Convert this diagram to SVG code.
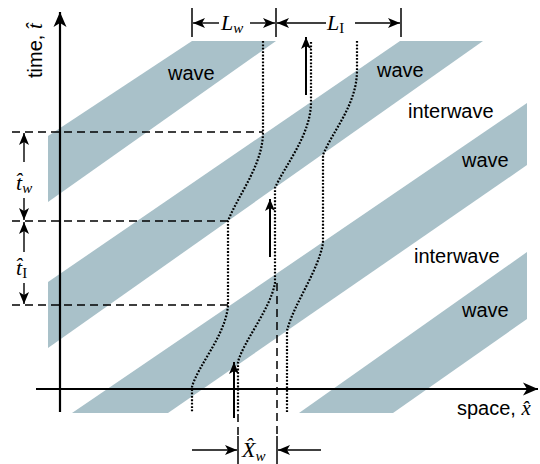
<svg xmlns="http://www.w3.org/2000/svg" width="540" height="464" viewBox="0 0 540 464">
<style>
.band{fill:#a9c1c9;stroke:none}
.ax{stroke:#000;stroke-width:2.2;fill:none}
.dim{stroke:#000;stroke-width:1.4;fill:none}
.tick{stroke:#000;stroke-width:1.5;fill:none}
.dash{stroke:#000;stroke-width:1.5;fill:none;stroke-dasharray:8,5}
.dot{stroke:#000;stroke-width:2.2;fill:none;stroke-dasharray:1.8,1.6}
.up{stroke:#000;stroke-width:2;fill:none}
.lbl{font-family:"Liberation Sans",Arial,sans-serif;font-size:20px;fill:#000}
.m{font-family:"Liberation Serif","Times New Roman",serif;font-style:italic;font-size:22px;fill:#000}
.sub{font-family:"Liberation Serif","Times New Roman",serif;font-style:italic;font-size:15px;fill:#000}
.subr{font-family:"Liberation Serif","Times New Roman",serif;font-style:normal;font-size:15px;fill:#000}
</style>
<defs>
<marker id="ah" markerUnits="userSpaceOnUse" viewBox="-13 -6 14 12" refX="0" refY="0" markerWidth="14" markerHeight="12" orient="auto">
<path d="M0,0 L-12,-5 L-9,0 L-12,5 Z" fill="#000"/>
</marker>
<marker id="ahb" markerUnits="userSpaceOnUse" viewBox="-16 -8 17 16" refX="0" refY="0" markerWidth="17" markerHeight="16" orient="auto">
<path d="M0,0 L-15,-6.5 L-11,0 L-15,6.5 Z" fill="#000"/>
</marker>
</defs>

<g id="bands">
<polygon id="band-a" class="band" points="48,136 192,41 276,41 48,202"/>
<polygon id="band-b" class="band" points="48,282 400,41 483,41 48,348"/>
<polygon id="band-c" class="band" points="72,413 168,413 527,165 527,103"/>
<polygon id="band-d" class="band" points="299,413 393,413 527,319 527,252"/>
</g>

<g id="labels">
<text class="lbl" x="168" y="80">wave</text>
<text class="lbl" x="377" y="77">wave</text>
<text class="lbl" x="408" y="118">interwave</text>
<text class="lbl" x="462" y="167">wave</text>
<text class="lbl" x="414" y="263">interwave</text>
<text class="lbl" x="462" y="317">wave</text>
</g>

<g id="guides">
<line class="dash" x1="12" y1="132" x2="263" y2="132"/>
<line class="dash" x1="12" y1="221" x2="228" y2="221"/>
<line class="dash" x1="12" y1="305" x2="228" y2="305"/>
<line class="dash" x1="238" y1="414" x2="238" y2="436"/>
<line class="dash" x1="277" y1="283" x2="277" y2="436"/>
<line class="tick" x1="238" y1="436" x2="238" y2="464"/>
<line class="tick" x1="277" y1="436" x2="277" y2="464"/>
</g>

<g id="axes">
<line id="t-axis" class="ax" x1="60" y1="412" x2="60" y2="12" marker-end="url(#ahb)"/>
<line id="x-axis" class="ax" x1="36" y1="389" x2="538" y2="389" marker-end="url(#ahb)"/>
<text class="lbl" transform="translate(42,78) rotate(-90)">time, <tspan class="m" style="font-size:21px">t̂</tspan></text>
<text class="lbl" x="457" y="415">space, <tspan class="m" style="font-size:21px">x̂</tspan></text>
</g>

<g id="trajectories">
<path id="traj-1" class="dot" d="M263,41 V132 C263,165 238,195 228,221 V305 C226,335 198,365 192,387 V412"/>
<path id="traj-2" class="dot" d="M311,42 V102 C311,135 285,165 275,188 V283 C270,310 244,340 238,362 V412"/>
<path id="traj-3" class="dot" d="M357,41 V70 C357,105 333,130 323,155 V243 C318,272 293,305 287,331 V412"/>
</g>

<g id="motion-arrows">
<line class="up" x1="306" y1="95" x2="306" y2="37" marker-end="url(#ah)"/>
<line class="up" x1="270" y1="257" x2="270" y2="199" marker-end="url(#ah)"/>
<line class="up" x1="234" y1="418" x2="234" y2="362" marker-end="url(#ah)"/>
</g>

<g id="dim-top">
<line class="tick" x1="192" y1="8" x2="192" y2="37"/>
<line class="tick" x1="276" y1="8" x2="276" y2="37"/>
<line class="tick" x1="401" y1="8" x2="401" y2="37"/>
<line class="dim" x1="219" y1="23" x2="193" y2="23" marker-end="url(#ah)"/>
<line class="dim" x1="250" y1="23" x2="275" y2="23" marker-end="url(#ah)"/>
<line class="dim" x1="326" y1="23" x2="277" y2="23" marker-end="url(#ah)"/>
<line class="dim" x1="355" y1="23" x2="400" y2="23" marker-end="url(#ah)"/>
<text class="m" x="221" y="30">L<tspan class="sub" dy="3">w</tspan></text>
<text class="m" x="327" y="30">L<tspan class="subr" dy="3">I</tspan></text>
</g>

<g id="dim-left">
<line class="dim" x1="24" y1="162" x2="24" y2="133" marker-end="url(#ah)"/>
<line class="dim" x1="24" y1="198" x2="24" y2="220" marker-end="url(#ah)"/>
<line class="dim" x1="24" y1="252" x2="24" y2="222" marker-end="url(#ah)"/>
<line class="dim" x1="24" y1="283" x2="24" y2="304" marker-end="url(#ah)"/>
<text class="m" x="16" y="190">t̂<tspan class="sub" dy="3">w</tspan></text>
<text class="m" x="16" y="275">t̂<tspan class="subr" dy="3">I</tspan></text>
</g>

<g id="dim-bottom">
<line class="dim" x1="192" y1="450" x2="237" y2="450" marker-end="url(#ah)"/>
<line class="dim" x1="321" y1="450" x2="278" y2="450" marker-end="url(#ah)"/>
<text class="m" x="242" y="457">X̂<tspan class="sub" dy="4">w</tspan></text>
</g>
</svg>
